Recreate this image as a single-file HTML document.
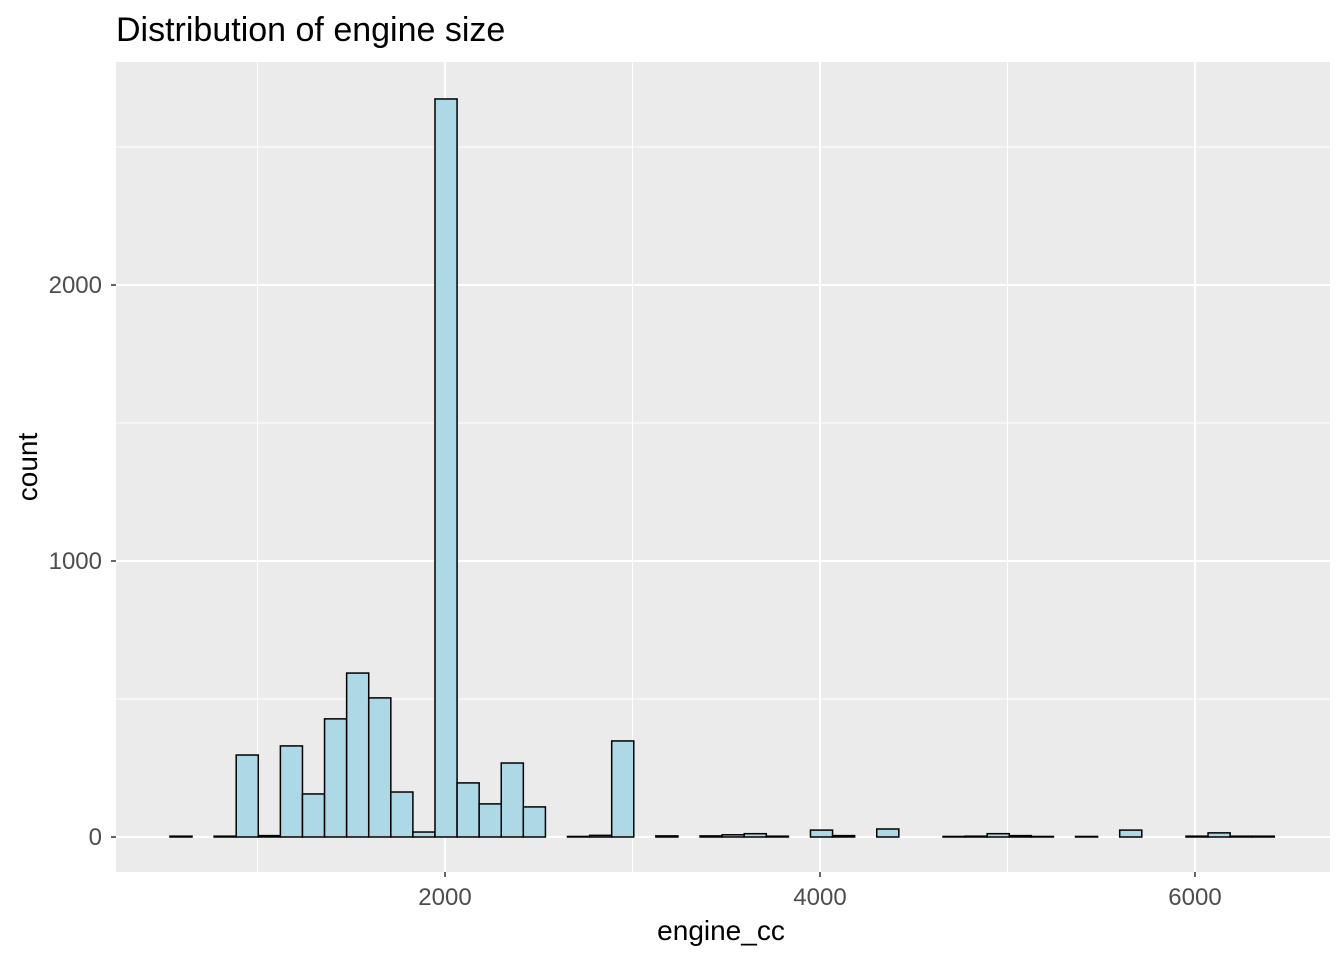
<!DOCTYPE html>
<html><head><meta charset="utf-8"><style>
body{margin:0;background:#fff;}
svg text{font-family:"Liberation Sans",Arial,sans-serif;}
</style></head><body>
<svg id="chart" width="1344" height="960" xmlns="http://www.w3.org/2000/svg">
<text x="116" y="41" font-size="34" fill="#000">Distribution of engine size</text>
<rect x="116" y="62" width="1214" height="810" fill="#ebebeb"/>
<g id="grid"></g>
<g id="bars"></g>
<g id="axes"></g>
<text x="721" y="940" font-size="28" text-anchor="middle" fill="#000">engine_cc</text>
<text transform="translate(37,467) rotate(-90)" font-size="28" text-anchor="middle" fill="#000">count</text>
</svg>
<script>
const binStart = 533;
const binWidth = 117.8;
const counts = [3,0,3,297,5,330,156,428,594,504,163,18,2674,196,120,268,109,0,2,6,348,0,4,0,4,8,12,3,0,25,5,0,29,0,0,2,3,12,5,2,0,2,0,25,0,0,3,15,3,3];
const xTicks = [2000,4000,6000];
const xMinor = [1000,3000,5000];
const yTicks = [0,1000,2000];
const yMinor = [500,1500,2500];
const NS="http://www.w3.org/2000/svg";
const sx = v => 445 + (v-2000)*0.1875;
const sy = v => 837 - v*0.276;
function mk(tag, attrs, parent){const e=document.createElementNS(NS,tag);for(const k in attrs)e.setAttribute(k,attrs[k]);parent.appendChild(e);return e;}
const grid=document.getElementById('grid'), bars=document.getElementById('bars'), axes=document.getElementById('axes');
xMinor.forEach(v=>{const l=mk('line',{x1:sx(v),x2:sx(v),y1:62,y2:872,stroke:'#fff','stroke-width':1},grid);

});
yMinor.forEach(v=>{const l=mk('line',{x1:116,x2:1330,y1:sy(v),y2:sy(v),stroke:'#fff','stroke-width':1},grid);

});
xTicks.forEach(v=>{const l=mk('line',{x1:sx(v),x2:sx(v),y1:62,y2:872,stroke:'#fff','stroke-width':2},grid);


const t=mk('line',{x1:sx(v),x2:sx(v),y1:872,y2:877,stroke:'#333','stroke-width':1.5},axes);


const tx=mk('text',{x:sx(v),y:905,'font-size':24,'text-anchor':'middle',fill:'#4d4d4d'},axes);tx.textContent=v;

});
yTicks.forEach(v=>{const l=mk('line',{x1:116,x2:1330,y1:sy(v),y2:sy(v),stroke:'#fff','stroke-width':2},grid);


const t=mk('line',{x1:111,x2:116,y1:sy(v),y2:sy(v),stroke:'#333','stroke-width':1.5},axes);


const tx=mk('text',{x:102,y:sy(v)+8,'font-size':24,'text-anchor':'end',fill:'#4d4d4d'},axes);tx.textContent=v;

});
counts.forEach((c,i)=>{const x0=sx(binStart+i*binWidth),x1=sx(binStart+(i+1)*binWidth);
const r=mk('rect',{x:x0,y:sy(c),width:x1-x0,height:sy(0)-sy(c),fill:'#add8e6',stroke:'#000','stroke-width':1.5},bars);

});
</script>
</body></html>
